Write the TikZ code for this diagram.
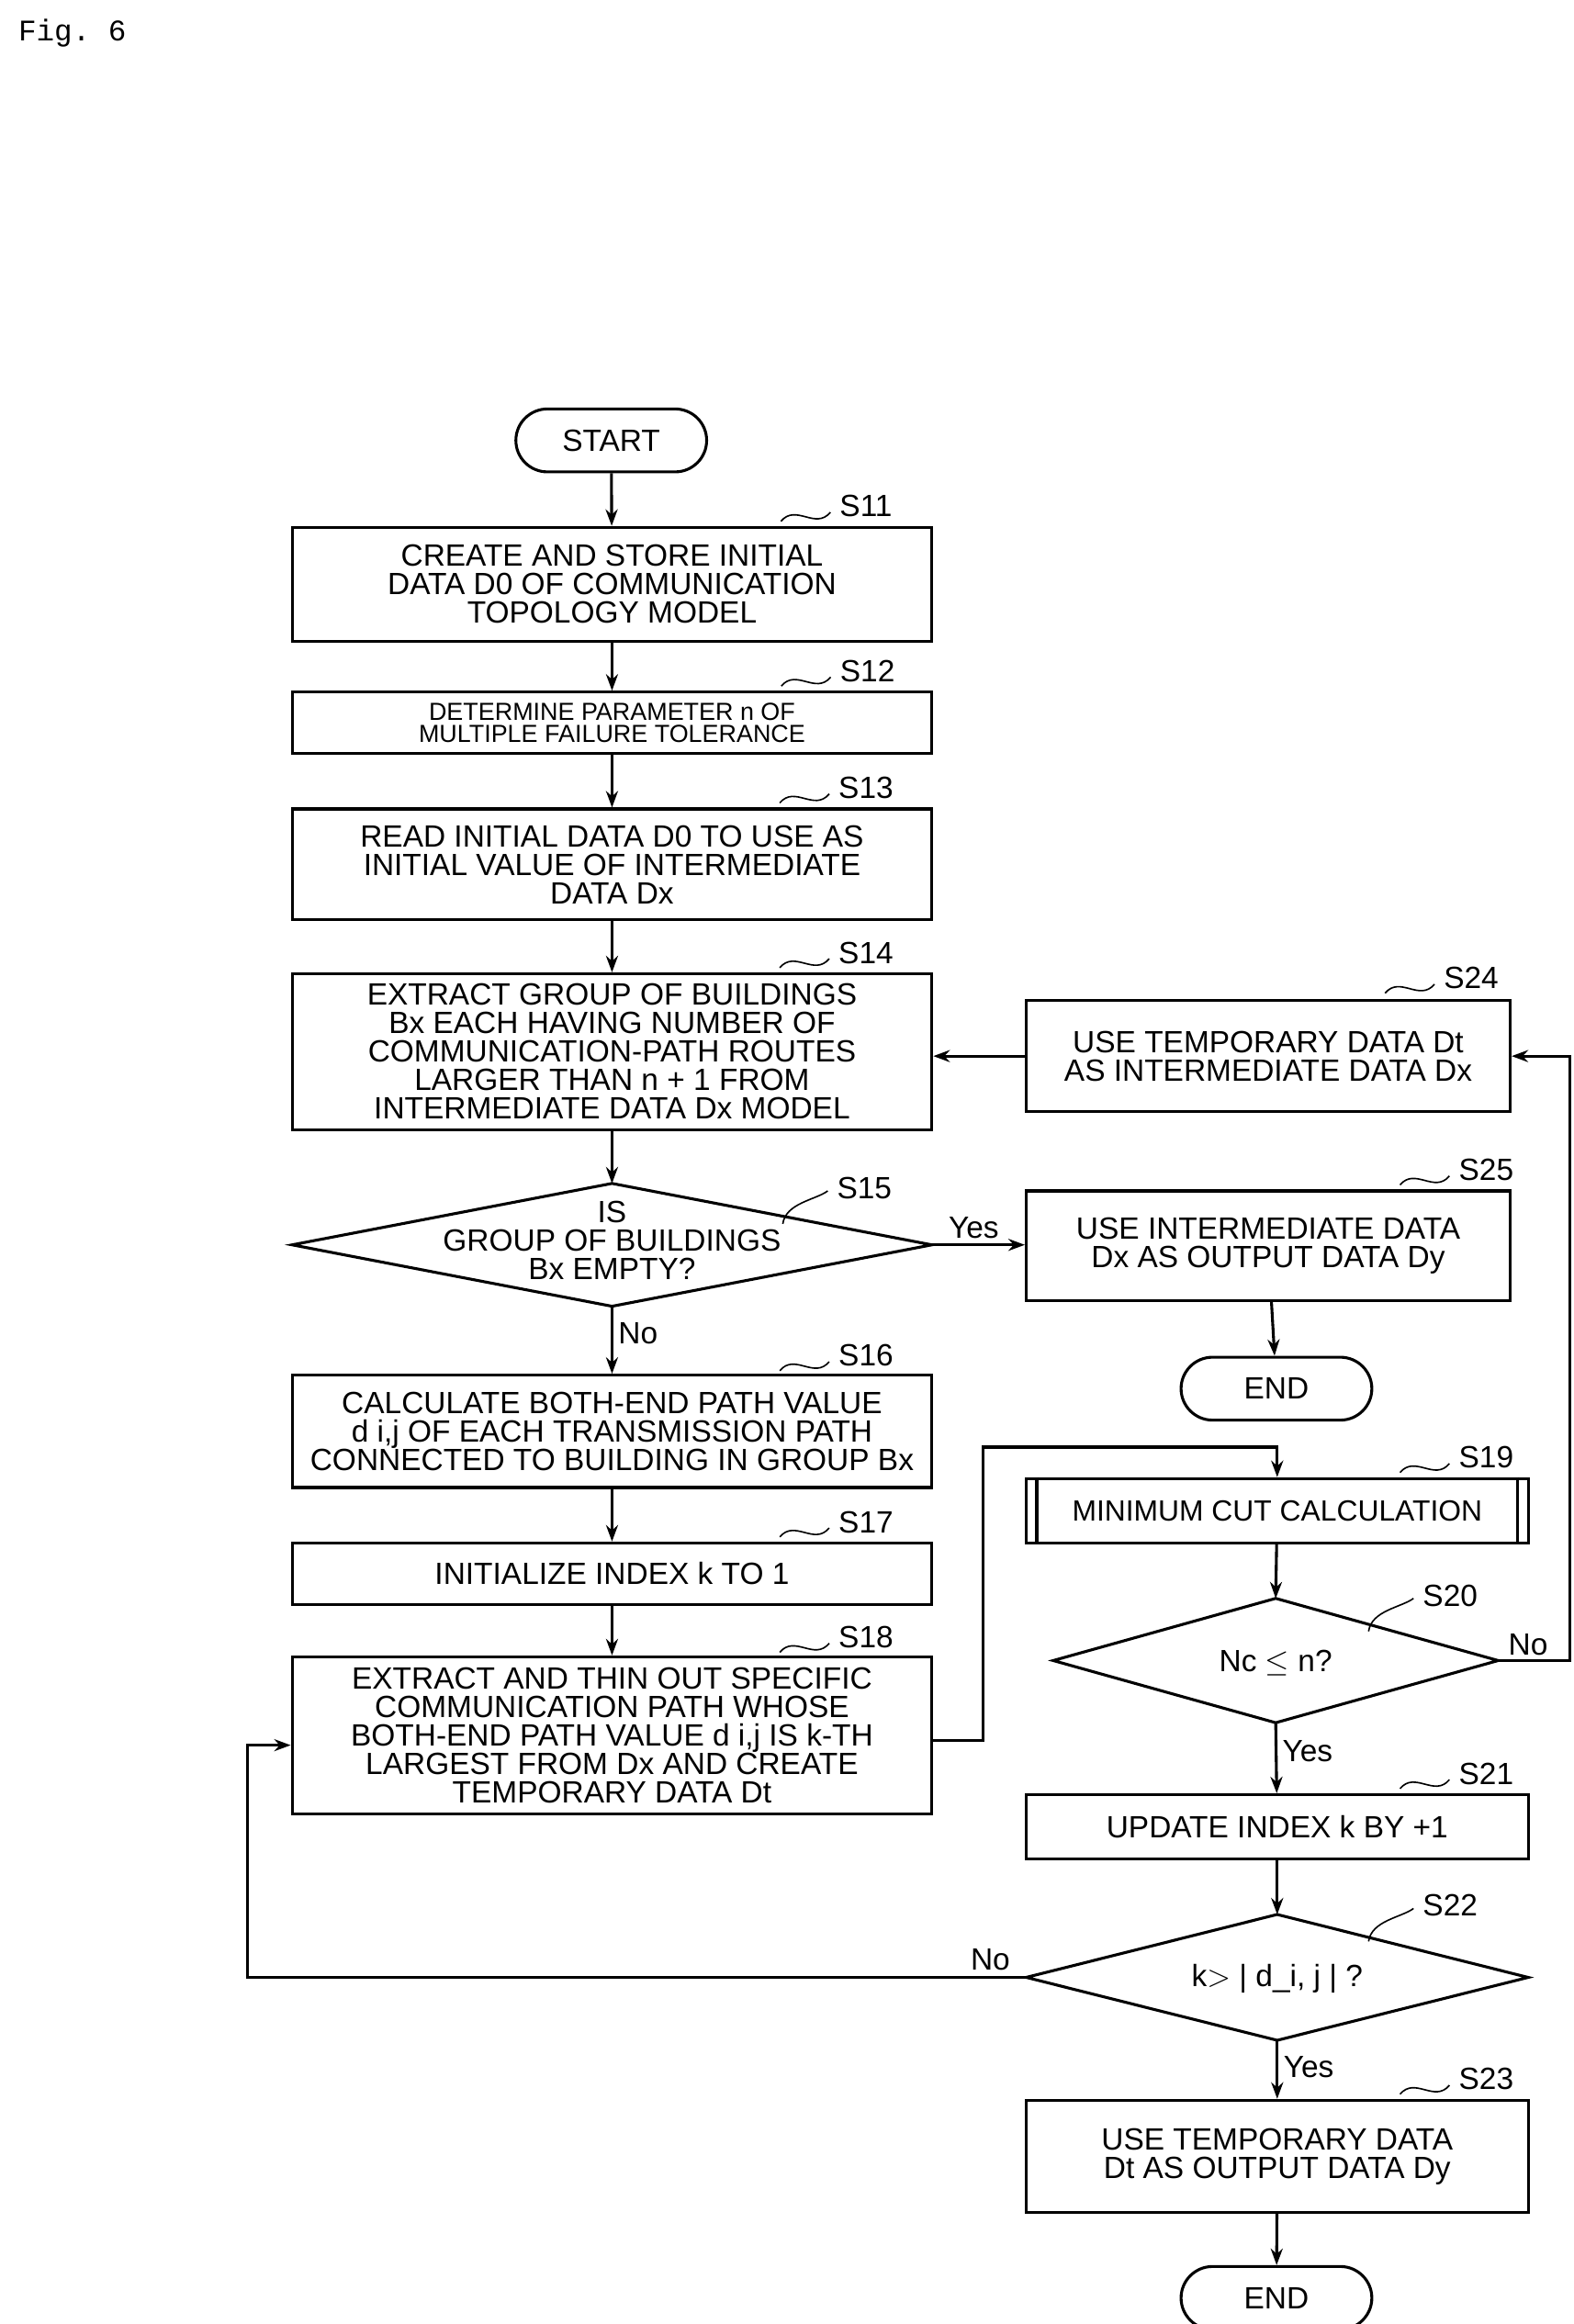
\documentclass[tikz,border=0pt]{standalone}
\usepackage{fontspec}
\setmainfont{Liberation Sans}
\setmonofont{Liberation Mono}
\usetikzlibrary{shapes.geometric,shapes.misc,arrows.meta}
\begin{document}
\begin{tikzpicture}[x=1pt,y=-1pt,line width=1.9pt,
 box/.style={draw,rectangle,minimum width=427pt,align=center,inner sep=0pt,font=\fontsize{20.5}{19}\selectfont},
 rbox/.style={draw,rectangle,minimum width=323pt,align=center,inner sep=0pt,font=\fontsize{20.5}{19}\selectfont},
 term/.style={draw,rounded rectangle,minimum width=134pt,minimum height=42pt,font=\fontsize{20.5}{20}\selectfont},
 dtext/.style={align=center,inner sep=0pt,font=\fontsize{20.5}{19}\selectfont},
 lbl/.style={font=\fontsize{20.5}{20}\selectfont},
 arr/.style={-{Stealth[length=11pt,width=8pt]}}]
\useasboundingbox (0,0) rectangle (1050,1551.4);
\node[anchor=west,font=\ttfamily\fontsize{20}{20}\selectfont] (fig) at (8,22) {Fig. 6};
\node[term] (start) at (408,294) {START};
\node[box,minimum height=76pt] (s11) at (408.5,390) {CREATE AND STORE INITIAL\\DATA D0 OF COMMUNICATION\\TOPOLOGY MODEL};
\node[box,minimum height=41pt,font=\fontsize{16.5}{15}\selectfont] (s12) at (408.5,482.5) {DETERMINE PARAMETER n OF\\MULTIPLE FAILURE TOLERANCE};
\node[box,minimum height=74pt] (s13) at (408.5,577) {READ INITIAL DATA D0 TO USE AS\\INITIAL VALUE OF INTERMEDIATE\\DATA Dx};
\node[box,minimum height=104pt] (s14) at (408.5,702) {EXTRACT GROUP OF BUILDINGS\\Bx EACH HAVING NUMBER OF\\COMMUNICATION-PATH ROUTES\\LARGER THAN n + 1 FROM\\INTERMEDIATE DATA Dx MODEL};
\node[dtext] (s15) at (408.5,828) {IS\\GROUP OF BUILDINGS\\Bx EMPTY?};
\coordinate (s15n) at (408.5,790); \coordinate (s15s) at (408.5,872);
\coordinate (s15w) at (195,831); \coordinate (s15e) at (622,831);
\draw (s15n) -- (s15e) -- (s15s) -- (s15w) -- cycle;
\node[box,minimum height=75pt] (s16) at (408.5,955.5) {CALCULATE BOTH-END PATH VALUE\\d i,j OF EACH TRANSMISSION PATH\\CONNECTED TO BUILDING IN GROUP Bx};
\node[box,minimum height=41pt] (s17) at (408.5,1050.5) {INITIALIZE INDEX k TO 1};
\node[box,minimum height=105pt] (s18) at (408.5,1158.5) {EXTRACT AND THIN OUT SPECIFIC\\COMMUNICATION PATH WHOSE\\BOTH-END PATH VALUE d i,j IS k-TH\\LARGEST FROM Dx AND CREATE\\TEMPORARY DATA Dt};
\node[rbox,minimum height=74pt] (s24) at (846.5,705) {USE TEMPORARY DATA Dt\\AS INTERMEDIATE DATA Dx};
\node[rbox,minimum height=73pt] (s25) at (846.5,831.5) {USE INTERMEDIATE DATA\\Dx AS OUTPUT DATA Dy};
\node[term] (end1) at (852,927) {END};
\node[draw,rectangle,minimum width=335pt,minimum height=43pt,font=\fontsize{19.5}{19}\selectfont] (s19) at (852.5,1008.5) {MINIMUM CUT CALCULATION};
\draw (s19.north west)++(8,0) -- ++(0,43);
\draw (s19.north east)++(-8,0) -- ++(0,43);
\node[dtext] (s20) at (851.5,1110) {Nc $\leq$ n?};
\coordinate (s20n) at (851.5,1067); \coordinate (s20s) at (851.5,1150);
\coordinate (s20w) at (703,1108.5); \coordinate (s20e) at (1000,1108.5);
\draw (s20n) -- (s20e) -- (s20s) -- (s20w) -- cycle;
\node[box,minimum width=335pt,minimum height=43pt] (s21) at (852.5,1219.5) {UPDATE INDEX k BY +1};
\node[dtext] (s22) at (852.5,1321) {k$>$ | d\_i, j | ?};
\coordinate (s22n) at (852.5,1278); \coordinate (s22s) at (852.5,1362);
\coordinate (s22w) at (685,1320); \coordinate (s22e) at (1020,1320);
\draw (s22n) -- (s22e) -- (s22s) -- (s22w) -- cycle;
\node[box,minimum width=335pt,minimum height=75pt] (s23) at (852.5,1439.5) {USE TEMPORARY DATA\\Dt AS OUTPUT DATA Dy};
\node[term] (end2) at (852,1534) {END};
\foreach \n/\x/\y in {S11/578/338,S12/579/448,S13/578/526,S14/578/636,S16/578/905,S17/578/1016,S18/578/1093,S24/982/653,S25/992/781,S19/992/973,S21/992/1184,S23/992/1388}{
 \node[lbl] (L\n) at (\x,\y) {\n};
 \draw[line width=1pt] (L\n.west)++(-35,10) .. controls +(10,-12) and +(-10,12) .. ++(33,-6);
}
\foreach \n/\x/\y in {S15/577/793,S20/968/1065,S22/968/1272}{
 \node[lbl] (L\n) at (\x,\y) {\n};
 \draw[line width=1pt] (L\n.west)++(-32,24) .. controls +(2,-14) and +(-8,6) .. ++(30,-22);
}
\coordinate (c18) at (656,1162);
\coordinate (c19) at (656,966);
\coordinate (c20) at (1048,1108.5);
\coordinate (c24) at (1048,705);
\coordinate (c22) at (165,1320);
\coordinate (c18b) at (165,1165);
\draw[arr] (start) -- (s11);
\draw[arr] (s11) -- (s12);
\draw[arr] (s12) -- (s13);
\draw[arr] (s13) -- (s14);
\draw[arr] (s14) -- (s15n);
\draw[arr] (s15e) -- node[lbl,above,pos=0.45]{Yes} (s25.west|-s15e);
\draw[arr] (s15s) -- node[lbl,right,pos=0.4]{No} (s16);
\draw[arr] (s16) -- (s17);
\draw[arr] (s17) -- (s18);
\draw[arr] (s18.east|-c18) -- (c18) -- (c19) -| (s19.north);
\draw[arr] (s19) -- (s20n);
\draw[arr] (s20e) -- (c20) -- (c24) -- (s24.east);
\node[lbl] (no20) at (1020,1098) {No};
\draw[arr] (s24) -- (s14.east|-s24);
\draw[arr] (s20s) -- node[lbl,right,pos=0.4]{Yes} (s21);
\draw[arr] (s21) -- (s22n);
\draw[arr] (s22w) -- (c22) -- (c18b) -- (s18.west|-c18b);
\node[lbl] (no22) at (661,1308) {No};
\draw[arr] (s22s) -- node[lbl,right,pos=0.45]{Yes} (s23);
\draw[arr] (s25) -- (end1);
\draw[arr] (s23) -- (end2);
\end{tikzpicture}
\end{document}
